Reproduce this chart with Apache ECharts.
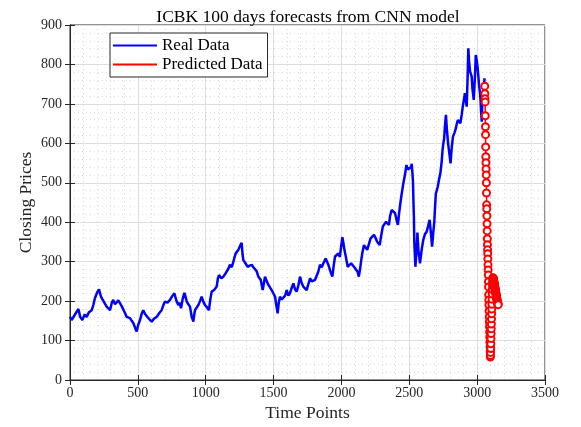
<!DOCTYPE html>
<html>
<head>
<meta charset="utf-8">
<script src="https://cdn.jsdelivr.net/npm/echarts@6/dist/echarts.min.js"></script>
<style>
html,body{margin:0;padding:0;background:#fff;}
#c{width:581px;height:427px;}
</style>
</head>
<body>
<div id="c"></div>
<script>
// ---- data ----
var titleText = 'ICBK 100 days forecasts from CNN model';
var xLabel = 'Time Points';
var yLabel = 'Closing Prices';
var seriesNames = ['Real Data', 'Predicted Data'];

var realIndex = [0,12,25,40,62,75,91,108,123,140,160,172,184,200,214,225,233,250,270,282,295,308,319,332,344,356,368,380,393,405,418,430,442,455,467,480,491,503,516,528,540,552,565,585,602,620,639,658,675,688,700,718,737,752,769,785,798,808,818,830,843,852,860,872,884,897,909,915,921,933,946,958,970,983,995,1010,1024,1034,1044,1062,1081,1090,1098,1115,1130,1142,1155,1167,1179,1192,1204,1213,1221,1231,1241,1253,1265,1271,1277,1293,1309,1324,1339,1351,1363,1375,1388,1405,1420,1437,1450,1462,1474,1486,1498,1511,1520,1530,1538,1547,1560,1572,1585,1597,1609,1621,1634,1646,1658,1670,1683,1695,1707,1719,1732,1744,1757,1769,1781,1793,1806,1818,1830,1842,1855,1867,1876,1884,1894,1904,1918,1933,1943,1953,1966,1978,1988,1998,2007,2015,2022,2034,2046,2058,2071,2083,2095,2108,2120,2128,2137,2146,2154,2166,2178,2190,2203,2215,2227,2240,2252,2262,2272,2282,2292,2305,2317,2329,2341,2350,2358,2370,2382,2395,2407,2416,2424,2434,2444,2456,2469,2479,2489,2501,2513,2518,2523,2527,2530,2534,2537,2545,2554,2560,2567,2579,2591,2603,2616,2628,2640,2650,2660,2668,2677,2684,2690,2696,2702,2710,2719,2729,2739,2745,2751,2757,2763,2770,2776,2786,2795,2804,2813,2822,2832,2840,2849,2858,2866,2876,2886,2894,2903,2910,2916,2923,2930,2935,2940,2948,2955,2960,2965,2975,2984,2990,2997,3003,3009,3015,3021,3025,3029,3034,3038,3045,3051,3055];
var realPrice = [160,152,148,168,180,160,152,166,160,172,177,190,208,222,230,215,208,198,186,190,177,196,203,192,190,202,198,188,193,170,160,165,157,150,144,132,123,140,152,168,177,168,162,154,148,156,160,170,177,190,199,196,203,212,220,200,190,196,182,205,221,210,199,192,186,160,148,165,177,182,190,200,211,198,190,184,177,205,224,228,237,258,266,258,262,268,270,282,292,286,300,312,321,318,330,340,348,320,304,296,287,290,292,286,283,276,262,254,228,262,250,241,236,228,220,211,190,169,195,211,204,199,214,228,214,220,234,245,230,224,240,262,246,237,232,228,244,258,250,249,254,258,275,292,286,296,302,308,300,292,276,262,290,313,318,321,312,308,362,346,330,310,287,292,296,292,286,283,274,262,280,304,322,342,336,330,345,359,364,368,360,351,346,342,364,389,394,401,396,393,415,431,426,423,405,393,420,448,472,498,522,545,534,530,540,548,525,505,460,414,350,287,330,374,330,296,330,355,370,376,392,406,370,338,375,400,440,473,480,490,508,524,555,583,600,613,645,672,640,600,575,549,590,617,626,634,648,659,655,651,672,693,712,727,710,693,770,841,810,782,775,769,740,710,770,824,810,794,770,744,728,710,680,655,700,735,752,765,720];

var predStartIndex = 3056;
var predPrice = [745,726,713,705,670,642,622,591,566,551,535,520,500,474,444,434,416,396,378,358,343,330,320,307,292,279,266,249,236,216,203,190,175,160,147,135,122,109,96,84,71,58,62,70,80,92,105,118,130,142,155,168,180,192,205,218,230,240,248,254,258,259,258,257,256,254,252,250,248,246,244,242,240,238,236,234,232,230,228,226,224,222,220,218,216,214,212,210,208,206,204,202,200,198,196,195,194,193,192,191];

var xTicks = {min:0, max:3500, interval:500};
var yTicks = {min:0, max:900, interval:100};

// ---- build ----
var realData = realIndex.map(function(x,i){return [x, realPrice[i]];});
var predData = predPrice.map(function(v,i){return [predStartIndex + i, v];});

var font = 'Liberation Serif, Times New Roman, serif';
var axisCol = '#262626';
var plain = function(v){return String(v);};

var chart = echarts.init(document.getElementById('c'), null, {renderer:'canvas'});
chart.setOption({
  backgroundColor:'#ffffff',
  animation:false,
  title:{text:titleText, left:303, textAlign:'center', top:3,
    textStyle:{fontFamily:font, fontSize:17.5, fontWeight:'normal', color:'#000'}},
  legend:{
    left:110, top:33, orient:'vertical',
    data:[{name:seriesNames[0]},{name:seriesNames[1]}],
    icon:'rect', itemWidth:44, itemHeight:2, itemGap:2,
    itemStyle:{borderWidth:0},
    backgroundColor:'#ffffff', borderColor:'#262626', borderWidth:1,
    padding:[4,5,4,3],
    textStyle:{fontFamily:font, fontSize:17, color:'#000', padding:[0,0,0,0]}
  },
  grid:{left:70, right:36, top:25, bottom:47, show:true, borderColor:axisCol, borderWidth:1, backgroundColor:'#fff'},
  xAxis:[{
    type:'value', min:xTicks.min, max:xTicks.max, interval:xTicks.interval,
    name:xLabel, nameLocation:'middle', nameGap:24, nameMoveOverlap:false,
    nameTextStyle:{fontFamily:font, fontSize:17.5, color:axisCol},
    axisLine:{show:true, lineStyle:{color:axisCol}},
    axisTick:{show:true, inside:true, length:5, lineStyle:{color:axisCol}},
    axisLabel:{fontFamily:font, fontSize:14, color:axisCol, margin:6, formatter:plain},
    splitLine:{show:true, lineStyle:{color:'#dedede', width:1}},
    minorTick:{show:false, splitNumber:5},
    minorSplitLine:{show:true, lineStyle:{color:'#dcdcdc', type:[1,3], width:1}}
  },{
    type:'value', position:'top', min:xTicks.min, max:xTicks.max, interval:xTicks.interval,
    axisLine:{show:true, lineStyle:{color:axisCol}},
    axisTick:{show:true, inside:true, length:5, lineStyle:{color:axisCol}},
    axisLabel:{show:false}, splitLine:{show:false}
  }],
  yAxis:[{
    type:'value', min:yTicks.min, max:yTicks.max, interval:yTicks.interval,
    name:yLabel, nameLocation:'middle', nameGap:35, nameMoveOverlap:false,
    nameTextStyle:{fontFamily:font, fontSize:17.5, color:axisCol},
    axisLine:{show:true, lineStyle:{color:axisCol}},
    axisTick:{show:true, inside:true, length:5, lineStyle:{color:axisCol}},
    axisLabel:{fontFamily:font, fontSize:14, color:axisCol, margin:8, formatter:plain},
    splitLine:{show:true, lineStyle:{color:'#dedede', width:1}},
    minorTick:{show:false, splitNumber:5},
    minorSplitLine:{show:true, lineStyle:{color:'#dcdcdc', type:[1,3], width:1}}
  },{
    type:'value', position:'right', min:yTicks.min, max:yTicks.max, interval:yTicks.interval,
    axisLine:{show:true, lineStyle:{color:axisCol}},
    axisTick:{show:true, inside:true, length:5, lineStyle:{color:axisCol}},
    axisLabel:{show:false}, splitLine:{show:false}
  }],
  series:[{
    name:seriesNames[0], type:'line', data:realData, showSymbol:false, symbol:'none',
    color:'#0000ff', lineStyle:{color:'#0000ff', width:2.5}, z:3
  },{
    name:seriesNames[1], type:'line', data:predData, symbol:'emptyCircle', symbolSize:7,
    color:'#ff0000', lineStyle:{color:'#ff0000', width:1.5},
    itemStyle:{color:'#ff0000', borderColor:'#ff0000', borderWidth:1.2}, z:4
  }]
});
</script>
</body>
</html>
